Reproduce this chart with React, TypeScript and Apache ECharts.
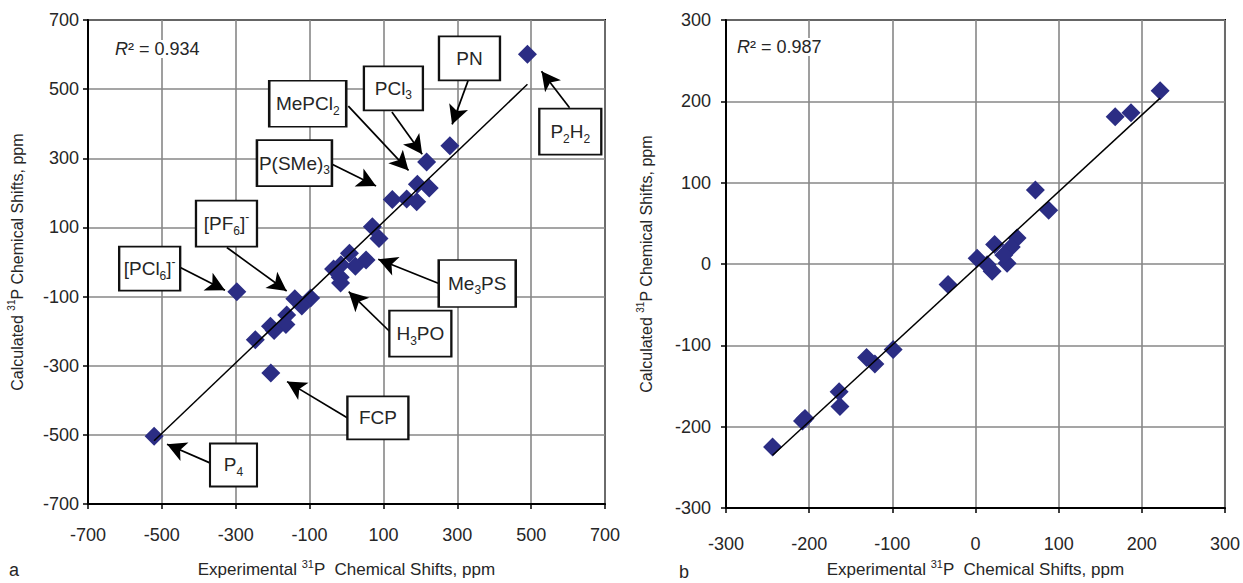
import React, { useEffect, useRef } from 'react';
import * as echarts from 'echarts';

const FONT = '"Liberation Sans", Arial, Helvetica, sans-serif';
const MARK = '#2b2d84';
const TXT = '#262626';

// Panel a: experimental vs calculated 31P shifts (ppm)
const leftExperimental = [490, 280, 217, 192, 224, 124, 163, 190, 70, 88, 8, 53, 24, -15, -17, -35, -16, -297, -140, -97, -121, -162, -164, -206, -196, -247, -205, -521];
const leftCalculated = [601, 336, 289, 225, 214, 181, 182, 174, 102, 68, 25, 6, -12, -8, -44, -20, -61, -86, -106, -104, -127, -153, -181, -186, -198, -225, -321, -504];
const leftTrendX = [-521, 490];
const leftTrendY = [-517, 514];
const leftR2 = '0.934';

// Panel b
const rightExperimental = [222, 168, 187, 72, 88, 50, 43, 23, 2, 20, 14, 38, 34, -33, -99, -131, -121, -164, -163, -205, -208, -244];
const rightCalculated = [213, 181, 186, 91, 66, 32, 21, 24, 7, -9, -1, 1, 11, -25, -105, -115, -123, -157, -175, -190, -193, -225];
const rightTrendX = [-244, 222];
const rightTrendY = [-235, 204];
const rightR2 = '0.987';

// Annotation labels for panel a
const annoText = [
  '{n|PN}',
  '{n|PCl}{s|3}',
  '{n|MePCl}{s|2}',
  '{n|P(SMe)}{s|3}',
  '{n|[PF}{s|6}{n|]}{u|-}',
  '{n|[PCl}{s|6}{n|]}{u|-}',
  '{n|P}{s|2}{n|H}{s|2}',
  '{n|Me}{s|3}{n|PS}',
  '{n|H}{s|3}{n|PO}',
  '{n|FCP}',
  '{n|P}{s|4}',
];
// layout of annotation boxes (data coords) and arrows
const annoBox = [[333, 589], [127, 502], [-105, 458], [-141, 286], [-325, 111], [-533, -19], [606, 377], [354, -62], [200, -207], [85, -451], [-306, -587]];
const annoSize = [[61, 44], [59, 44], [77, 46], [75, 46], [61, 46], [61, 44], [62, 46], [77, 47], [62, 46], [61, 43], [47, 43]];
const annoFrom = [[329, 524], [123, 434], [5, 451], [-39, 283], [-324, 42], [-450, -16], [604, 446], [250, -62], [117, -201], [3, -451], [-370, -581]];
const annoTo = [[286, 398], [205, 312], [168, 265], [80, 220], [-162, -84], [-329, -82], [528, 552], [86, 8], [6, -86], [-161, -346], [-486, -527]];

const rich = {
  n: { fontSize: 19, lineHeight: 26, fontFamily: FONT, color: TXT, verticalAlign: 'middle' },
  s: { fontSize: 12, lineHeight: 26, fontFamily: FONT, color: TXT, verticalAlign: 'bottom' },
  u: { fontSize: 12, lineHeight: 26, fontFamily: FONT, color: TXT, verticalAlign: 'top' },
};

function nameRich(size: number) {
  return {
    n: { fontSize: size, lineHeight: size + 6, fontFamily: FONT, color: TXT, verticalAlign: 'middle' },
    u: { fontSize: Math.round(size * 0.62), lineHeight: size + 6, fontFamily: FONT, color: TXT, verticalAlign: 'top' },
  };
}
const xName = '{n|Experimental }{u|31}{n|P  Chemical Shifts, ppm}';
const yName = '{n|Calculated }{u|31}{n|P Chemical Shifts, ppm}';

function valueAxis(min: number, max: number, interval: number, labelMargin: number, name: string, gap: number, isY: boolean, gridIndex: number) {
  return {
    type: 'value',
    gridIndex,
    min,
    max,
    interval,
    name,
    nameLocation: 'middle',
    nameGap: gap,
    nameRotate: isY ? 90 : 0,
    nameTextStyle: { rich: nameRich(isY ? 16 : 17) },
    axisLine: { show: true, onZero: false, lineStyle: { color: '#000', width: 2 } },
    axisTick: { show: true, length: 5, lineStyle: { color: '#000', width: 1.5 } },
    axisLabel: { fontFamily: FONT, fontSize: 18, color: TXT, margin: labelMargin },
    splitLine: { show: true, lineStyle: { color: '#878787', width: 1.6 } },
  };
}

const r2Rich = {
  i: { fontStyle: 'italic', fontSize: 18, fontFamily: FONT, fill: TXT },
  n: { fontSize: 18, fontFamily: FONT, fill: TXT },
};

export default function App() {
  const ref = useRef<HTMLDivElement>(null);
  useEffect(() => {
    if (!ref.current) return;
    const chart = echarts.init(ref.current, undefined, { renderer: 'svg' });
    const leftData = leftExperimental.map((x, i) => [x, leftCalculated[i]]);
    const rightData = rightExperimental.map((x, i) => [x, rightCalculated[i]]);
    chart.setOption({
      animation: false,
      backgroundColor: '#fff',
      grid: [
        { left: 88, top: 20, width: 517, height: 484, show: true, borderColor: '#000', borderWidth: 2, backgroundColor: 'transparent' },
        { left: 726, top: 20, width: 505, height: 493, show: true, borderColor: '#000', borderWidth: 2, backgroundColor: 'transparent' },
      ],
      xAxis: [
        valueAxis(-700, 700, 200, 22, xName, 54, false, 0),
        valueAxis(-300, 300, 100, 27, xName, 48, false, 1),
      ],
      yAxis: [
        valueAxis(-700, 700, 200, 9, yName, 60, true, 0),
        valueAxis(-300, 300, 100, 15, yName, 69, true, 1),
      ],
      series: [
        {
          type: 'scatter',
          xAxisIndex: 0,
          yAxisIndex: 0,
          data: leftData,
          symbol: 'diamond',
          symbolSize: [19, 19],
          itemStyle: { color: MARK, opacity: 1 },
          z: 3,
          markPoint: {
            silent: true,
            symbol: 'rect',
            data: annoText.map((t, i) => ({
              coord: annoBox[i],
              symbolSize: annoSize[i],
              itemStyle: { color: '#fff', borderColor: '#111', borderWidth: 2 },
              label: { show: true, position: 'inside', formatter: () => t, rich },
            })),
          },
          markLine: {
            silent: true,
            symbol: ['none', 'arrow'],
            symbolSize: [15, 19],
            lineStyle: { color: '#000', width: 1.7, type: 'solid' },
            label: { show: false },
            data: annoFrom.map((f, i) => [{ coord: f }, { coord: annoTo[i] }]),
          },
        },
        {
          type: 'line',
          xAxisIndex: 0,
          yAxisIndex: 0,
          data: leftTrendX.map((x, i) => [x, leftTrendY[i]]),
          showSymbol: false,
          symbol: 'none',
          lineStyle: { color: '#000', width: 1.5 },
          z: 5,
        },
        {
          type: 'scatter',
          xAxisIndex: 1,
          yAxisIndex: 1,
          data: rightData,
          symbol: 'diamond',
          symbolSize: [19, 19],
          itemStyle: { color: MARK, opacity: 1 },
          z: 3,
        },
        {
          type: 'line',
          xAxisIndex: 1,
          yAxisIndex: 1,
          data: rightTrendX.map((x, i) => [x, rightTrendY[i]]),
          showSymbol: false,
          symbol: 'none',
          lineStyle: { color: '#000', width: 1.5 },
          z: 5,
        },
      ],
      graphic: [
        {
          type: 'text', left: 115, top: 40, z: 10,
          style: { text: '{i|R}{n|² = ' + leftR2 + '}', rich: r2Rich, backgroundColor: '#fff' },
        },
        {
          type: 'text', left: 737, top: 38, z: 10,
          style: { text: '{i|R}{n|² = ' + rightR2 + '}', rich: r2Rich, backgroundColor: '#fff' },
        },
        { type: 'text', left: 9, top: 561, style: { text: 'a', fontSize: 18, fontFamily: FONT, fill: TXT } },
        { type: 'text', left: 679, top: 563, style: { text: 'b', fontSize: 18, fontFamily: FONT, fill: TXT } },
      ],
    });
    return () => chart.dispose();
  }, []);
  return <div ref={ref} style={{ position: 'fixed', left: 0, top: 0, width: 1243, height: 583, background: '#fff' }} />;
}
